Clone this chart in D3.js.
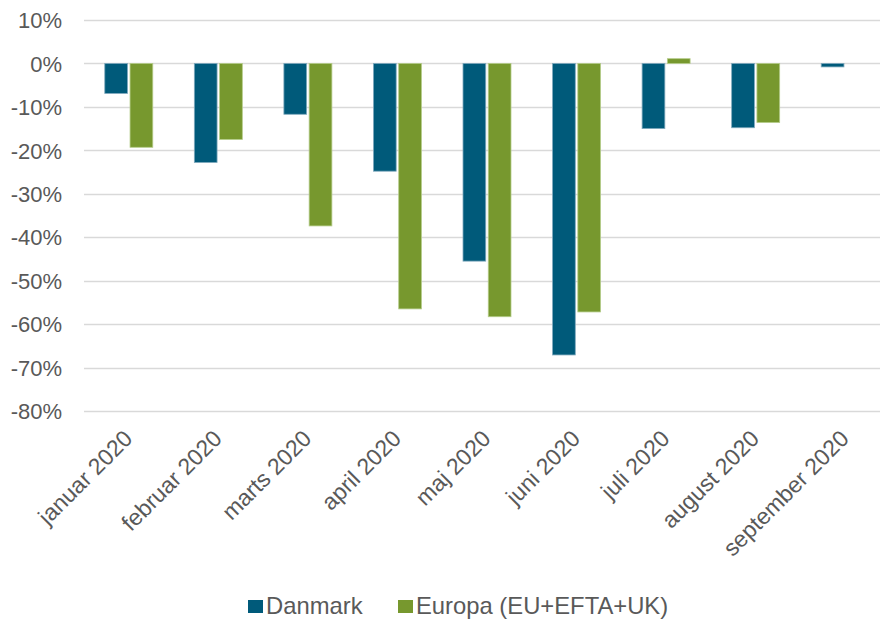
<!DOCTYPE html>
<html>
<head>
<meta charset="utf-8">
<script src="https://cdn.jsdelivr.net/npm/d3@7"></script>
<style>
  body { margin: 0; background: #fff; }
  svg { font-family: "Liberation Sans", Arial, sans-serif; }
</style>
</head>
<body>
<div id="chart"></div>
<script>
// data
var months = ['januar 2020', 'februar 2020', 'marts 2020', 'april 2020', 'maj 2020',
              'juni 2020', 'juli 2020', 'august 2020', 'september 2020'];
var seriesNames = ['Danmark', 'Europa (EU+EFTA+UK)'];
var danmark = [-0.069, -0.228, -0.117, -0.248, -0.455, -0.671, -0.150, -0.148, -0.008];
var europa  = [-0.193, -0.175, -0.374, -0.565, -0.583, -0.572, 0.011, -0.136, null];
var yTicks = [0.1, 0, -0.1, -0.2, -0.3, -0.4, -0.5, -0.6, -0.7, -0.8];
var colors = ['#005a7a', '#77982e'];

var W = 880, H = 619;
var plotLeft = 84, plotRight = 890, plotTop = 20, plotBottom = 411;

var svg = d3.select('#chart').append('svg')
    .attr('width', W)
    .attr('height', H);

var x = d3.scaleBand().domain(months).range([plotLeft, plotRight]);
var y = d3.scaleLinear().domain([0.1, -0.8]).range([plotTop, plotBottom]);
var x1 = d3.scaleBand().domain(seriesNames).range([0, 48]).paddingInner(0.1);

// excel style percent, plain hyphen for minus
var pct = function(d) { return Math.round(d * 100) + '%'; };

// gridlines
svg.append('g').selectAll('line')
    .data(yTicks)
    .enter().append('line')
    .attr('x1', plotLeft)
    .attr('x2', plotRight)
    .attr('y1', function(d) { return Math.round(y(d)) + 0.5; })
    .attr('y2', function(d) { return Math.round(y(d)) + 0.5; })
    .attr('stroke', '#d9d9d9')
    .attr('stroke-width', 1.5);

// y axis labels
var yAxis = svg.append('g')
    .attr('transform', 'translate(' + (plotLeft - 22) + ',0)')
    .call(d3.axisLeft(y).tickValues(yTicks).tickSize(0).tickFormat(pct));
yAxis.select('.domain').remove();
yAxis.selectAll('text')
    .attr('font-size', 22)
    .attr('fill', '#595959')
    .attr('font-family', '"Liberation Sans", Arial, sans-serif')
    .attr('x', 0)
    .attr('dy', '0.35em');

// bars
var rows = months.map(function(m, i) {
  return { month: m, values: [danmark[i], europa[i]] };
});

var groups = svg.append('g').selectAll('g')
    .data(rows)
    .enter().append('g')
    .attr('transform', function(d) {
      return 'translate(' + (x(d.month) + x.bandwidth() / 2 - 24) + ',0)';
    });

groups.selectAll('rect')
    .data(function(d) {
      return d.values.map(function(v, j) { return { name: seriesNames[j], value: v, j: j }; })
        .filter(function(e) { return e.value !== null; });
    })
    .enter().append('rect')
    .attr('x', function(d) { return x1(d.name); })
    .attr('width', x1.bandwidth())
    .attr('y', function(d) { return Math.min(y(d.value), y(0)); })
    .attr('height', function(d) { return Math.abs(y(d.value) - y(0)); })
    .attr('fill', function(d) { return colors[d.j]; })
    .attr('stroke', function(d) { return d.j === 0 ? '#7fa9bd' : '#b5cc8a'; })
    .attr('stroke-width', 0.8);

// x axis labels (rotated)
svg.append('g').selectAll('text')
    .data(months)
    .enter().append('text')
    .attr('transform', function(d) {
      return 'translate(' + (x(d) + x.bandwidth() / 2 + 5) + ',440) rotate(-45)';
    })
    .attr('text-anchor', 'end')
    .attr('font-size', 23)
    .attr('fill', '#595959')
    .text(function(d) { return d; });

// legend
var legend = svg.append('g').attr('transform', 'translate(248,606)');
var legX = [0, 150];
seriesNames.forEach(function(name, i) {
  legend.append('rect')
      .attr('x', legX[i])
      .attr('y', -6)
      .attr('width', 15)
      .attr('height', 13)
      .attr('fill', colors[i]);
  legend.append('text')
      .attr('x', legX[i] + 18)
      .attr('y', 0)
      .attr('dy', '0.35em')
      .attr('font-size', 23.8)
      .attr('fill', '#595959')
      .text(name);
});
</script>
</body>
</html>
